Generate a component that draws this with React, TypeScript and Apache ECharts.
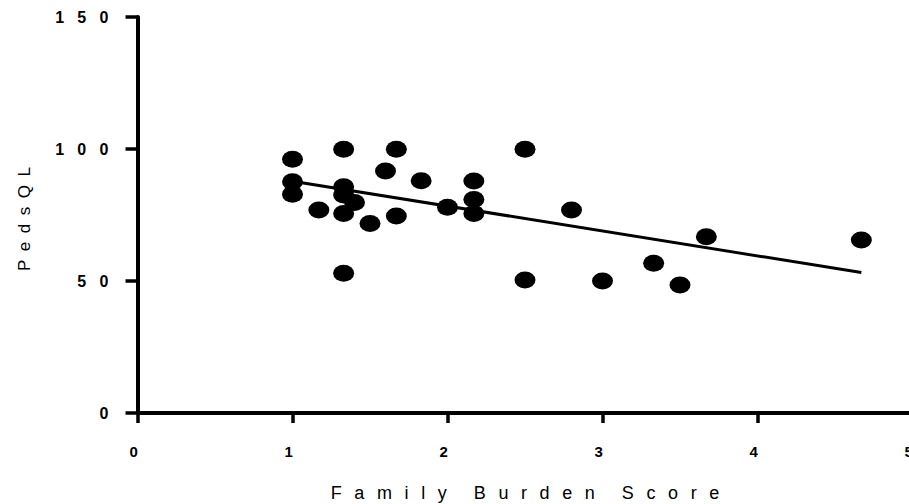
import React, { useEffect, useRef } from "react";
import * as echarts from "echarts";

// Family Burden Score (x) vs PedsQL (y)
const burdenScores = [1, 1, 1, 1.17, 1.33, 1.33, 1.33, 1.33, 1.33, 1.4, 1.5, 1.6, 1.67, 1.67, 1.83, 2.0, 2.17, 2.17, 2.17, 2.5, 2.5, 2.8, 3.0, 3.33, 3.5, 3.67, 4.67];
const pedsQL = [96.1, 87.6, 82.9, 76.9, 99.9, 85.7, 82.6, 75.6, 52.9, 79.7, 71.8, 91.7, 99.9, 74.6, 88.0, 77.9, 87.9, 80.9, 75.6, 99.9, 50.4, 76.9, 50.0, 56.7, 48.5, 66.8, 65.5];
// fitted regression line endpoints, as drawn
const fitX = [1, 4.67];
const fitY = [87.8, 53.2];

const xTitle = "Family Burden Score";
const yTitle = "PedsQL";

const spaced = (s: string, letterGap: string, wordGap: string) =>
  s
    .split(" ")
    .map((w) => w.split("").join(letterGap))
    .join(wordGap);

const FONT = "'Liberation Sans', Arial, sans-serif";

export default function App() {
  const ref = useRef<HTMLDivElement>(null);
  useEffect(() => {
    if (!ref.current) return;
    const chart = echarts.init(ref.current, undefined, { renderer: "svg" });
    const points = burdenScores.map((x, i) => [x, pedsQL[i]]);
    const fit = fitX.map((x, i) => [x, fitY[i]]);
    chart.setOption({
      animation: false,
      backgroundColor: "#ffffff",
      grid: {
        left: 137.5,
        top: 17,
        width: 775,
        height: 396,
        containLabel: false,
        outerBoundsMode: "none",
      },
      xAxis: {
        type: "value",
        min: 0,
        max: 5,
        interval: 1,
        splitLine: { show: false },
        axisLine: { show: true, onZero: false, lineStyle: { color: "#000", width: 4 } },
        axisTick: { show: true, inside: false, length: 10, lineStyle: { color: "#000", width: 3.5 } },
        axisLabel: {
          color: "#000",
          fontFamily: FONT,
          fontWeight: "bold",
          fontSize: 15,
          margin: 31,
          showMaxLabel: true,
          formatter: (v: number) => String(v) + "\u2002",
        },
        name: spaced(xTitle, "\u2002\u2009", "\u2003\u2002"),
        nameLocation: "middle",
        nameGap: 71,
        nameTextStyle: { color: "#000", fontFamily: FONT, fontSize: 18 },
      },
      yAxis: {
        type: "value",
        min: 0,
        max: 150,
        interval: 50,
        splitLine: { show: false },
        axisLine: { show: true, onZero: false, lineStyle: { color: "#000", width: 4 } },
        axisTick: { show: true, inside: false, length: 12, lineStyle: { color: "#000", width: 3.5 } },
        axisLabel: {
          color: "#000",
          fontFamily: FONT,
          fontWeight: "bold",
          fontSize: 16,
          margin: 29,
          formatter: (v: number) => spaced(String(v), "\u2002\u2004", ""),
        },
        name: spaced(yTitle, "\u2002", ""),
        nameLocation: "middle",
        nameGap: 105,
        nameRotate: 90,
        nameTextStyle: { color: "#000", fontFamily: FONT, fontSize: 17, padding: [0, 8, 0, 0] },
      },
      series: [
        {
          type: "line",
          data: fit,
          symbol: "none",
          lineStyle: { color: "#000", width: 3 },
          z: 2,
        },
        {
          type: "scatter",
          data: points,
          symbol: "path://M0,8.5A10.5,8.5,0,1,0,21,8.5A10.5,8.5,0,1,0,0,8.5Z",
          symbolSize: [21, 17],
          itemStyle: { color: "#000", opacity: 1 },
          z: 3,
        },
      ],
    });
    return () => chart.dispose();
  }, []);
  return (
    <div
      ref={ref}
      style={{ position: "fixed", left: 0, top: 0, width: 909, height: 504, background: "#fff" }}
    />
  );
}
